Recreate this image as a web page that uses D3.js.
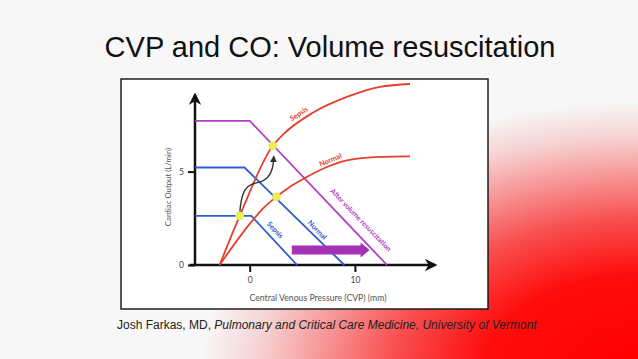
<!DOCTYPE html>
<html>
<head>
<meta charset="utf-8">
<script src="https://cdn.jsdelivr.net/npm/d3@7"></script>
<style>
  html, body { margin: 0; padding: 0; background: #f7f7f7; }
  svg { display: block; }
</style>
</head>
<body>
<div id="slide"></div>
<script>
// data (CVP in mmHg, CO in L/min)
var vrSepsis = [[-5.2, 2.63], [0.15, 2.63], [4.5, 0]];
var vrNormal = [[-5.2, 5.22], [-0.5, 5.22], [9.0, 0]];
var vrVolume = [[-5.2, 7.72], [0, 7.72], [13.05, 0]];
var cfSepsis = [[-2.86, 0], [-0.95, 2.63], [2.19, 6.38], [3.2, 7.0], [6.0, 8.15], [9.24, 9.0], [12.38, 9.54], [15.24, 9.69]];
var cfNormal = [[-2.86, 0], [0, 2.2], [1.3, 3.05], [2.54, 3.65], [3.6, 4.1], [5.24, 4.65], [6.95, 5.15], [9.24, 5.6], [12.4, 5.79], [15.24, 5.82]];
var equilibria = [[-0.95, 2.63], [2.54, 3.65], [2.19, 6.38]];
var shiftArrow = [[-0.95, 2.68], [-0.87, 3.39], [-0.48, 4.1], [0.16, 4.35], [0.95, 4.42], [1.71, 4.61], [2.22, 5.15], [2.29, 5.8]];
var volumeArrow = [[4.0, 0.8], [11.4, 0.8]];
var xTicks = [0, 10];
var yTicks = [0, 5];
var curveLabels = ["Sepsis", "Normal", "After volume resuscitation", "Normal", "Sepsis"];
var labelAt = [[4.67, 8.1], [7.67, 5.63], [10.57, 2.41], [6.43, 1.88], [2.43, 1.88]];

var W = 638, H = 359;
var red = "#e5402e", blue = "#2f5ed0", purple = "#b23fc4";

var svg = d3.select("#slide").append("svg")
  .attr("width", W)
  .attr("height", H);

var defs = svg.append("defs");

// red wash in the lower right corner
var grad = defs.append("radialGradient")
  .attr("id", "wash")
  .attr("gradientUnits", "userSpaceOnUse")
  .attr("cx", 0).attr("cy", 0).attr("r", 1)
  .attr("gradientTransform", "translate(645,372) scale(445,270)");
grad.append("stop").attr("offset", 0).attr("stop-color", "#ff0000");
grad.append("stop").attr("offset", 0.36).attr("stop-color", "#ff0c0c");
grad.append("stop").attr("offset", 0.57).attr("stop-color", "#f85050");
grad.append("stop").attr("offset", 0.72).attr("stop-color", "#f79292");
grad.append("stop").attr("offset", 0.87).attr("stop-color", "#f6d2d2");
grad.append("stop").attr("offset", 1).attr("stop-color", "#f7f7f7");

svg.append("rect").attr("width", W).attr("height", H).attr("fill", "#f7f7f7");
svg.append("rect").attr("width", W).attr("height", H).attr("fill", "url(#wash)");

// title
svg.append("text")
  .attr("x", 330).attr("y", 57)
  .attr("text-anchor", "middle")
  .style("font-family", "'Liberation Sans', Arial, sans-serif")
  .style("font-size", "29px")
  .attr("fill", "#111")
  .text("CVP and CO: Volume resuscitation");

// picture frame
svg.append("rect")
  .attr("x", 121).attr("y", 79)
  .attr("width", 367).attr("height", 230)
  .attr("fill", "#fff")
  .attr("stroke", "#111")
  .attr("stroke-width", 1.4);

// markers
defs.append("marker")
  .attr("id", "axhead")
  .attr("viewBox", "0 -5 10 10")
  .attr("refX", 8).attr("refY", 0)
  .attr("markerWidth", 5).attr("markerHeight", 5)
  .attr("orient", "auto")
  .append("path")
  .attr("d", "M0,-5L10,0L0,5L3,0Z")
  .attr("fill", "#111");

defs.append("marker")
  .attr("id", "smallhead")
  .attr("viewBox", "0 -5 10 10")
  .attr("refX", 8).attr("refY", 0)
  .attr("markerWidth", 5).attr("markerHeight", 5)
  .attr("orient", "auto")
  .append("path")
  .attr("d", "M0,-5L10,0L0,5Z")
  .attr("fill", "#333");

var x = d3.scaleLinear().domain([-5.2, 17.9]).range([195, 438]);
var y = d3.scaleLinear().domain([0, 9.1]).range([265, 95]);

var g = svg.append("g");
var chartFont = "Lato, 'Open Sans', sans-serif";

// axes lines with arrow heads
g.append("line")
  .attr("x1", x(-5.7)).attr("y1", y(0))
  .attr("x2", x(17.6)).attr("y2", y(0))
  .attr("stroke", "#111").attr("stroke-width", 2.5)
  .attr("marker-end", "url(#axhead)");
g.append("line")
  .attr("x1", x(-5.2)).attr("y1", y(0))
  .attr("x2", x(-5.2)).attr("y2", y(9.1))
  .attr("stroke", "#111").attr("stroke-width", 2.5)
  .attr("marker-end", "url(#axhead)");

var xAxis = g.append("g")
  .attr("transform", "translate(0," + y(0) + ")")
  .call(d3.axisBottom(x).tickValues(xTicks).tickSize(7).tickPadding(5));
var yAxis = g.append("g")
  .attr("transform", "translate(" + x(-5.2) + ",0)")
  .call(d3.axisLeft(y).tickValues(yTicks).tickSize(7).tickPadding(4));
[xAxis, yAxis].forEach(function(a) {
  a.select(".domain").remove();
  a.selectAll("line").attr("stroke", "#111").attr("stroke-width", 2);
  a.selectAll("text")
    .style("font-family", chartFont)
    .style("font-size", "8.5px")
    .attr("fill", "#444");
});

g.append("text")
  .attr("x", 318).attr("y", 301)
  .attr("text-anchor", "middle")
  .style("font-family", chartFont)
  .style("font-size", "8.7px")
  .attr("fill", "#555")
  .text("Central Venous Pressure (CVP) (mm)");

g.append("text")
  .attr("transform", "translate(171,187) rotate(-90)")
  .attr("text-anchor", "middle")
  .style("font-family", chartFont)
  .style("font-size", "7.8px")
  .attr("fill", "#555")
  .text("Cardiac Output (L/min)");

// curves
var straight = d3.line()
  .x(function(d) { return x(d[0]); })
  .y(function(d) { return y(d[1]); });
var smooth = d3.line()
  .x(function(d) { return x(d[0]); })
  .y(function(d) { return y(d[1]); })
  .curve(d3.curveMonotoneX);

var curves = [
  {pts: vrVolume, color: purple, gen: straight},
  {pts: vrNormal, color: blue, gen: straight},
  {pts: vrSepsis, color: blue, gen: straight},
  {pts: cfNormal, color: red, gen: smooth},
  {pts: cfSepsis, color: red, gen: smooth}
];
g.selectAll("path.curve")
  .data(curves)
  .enter()
  .append("path")
    .attr("class", "curve")
    .attr("d", function(d) { return d.gen(d.pts); })
    .attr("fill", "none")
    .attr("stroke", function(d) { return d.color; })
    .attr("stroke-width", 1.8);

// black shift arrow
g.append("path")
  .attr("d", d3.line()
    .x(function(d) { return x(d[0]); })
    .y(function(d) { return y(d[1]); })
    .curve(d3.curveBasis)(shiftArrow))
  .attr("fill", "none")
  .attr("stroke", "#333")
  .attr("stroke-width", 1.4)
  .attr("marker-end", "url(#smallhead)");

// equilibrium points
g.selectAll("circle.eq")
  .data(equilibria)
  .enter()
  .append("circle")
    .attr("class", "eq")
    .attr("cx", function(d) { return x(d[0]); })
    .attr("cy", function(d) { return y(d[1]); })
    .attr("r", 4)
    .attr("fill", "#eef04c")
    .attr("stroke", "#e6e070")
    .attr("stroke-width", 0.8);

// big purple arrow (volume shifts the curve right)
var ax0 = x(volumeArrow[0][0]), ax1 = x(volumeArrow[1][0]), ay = y(volumeArrow[0][1]);
g.append("path")
  .attr("d", "M" + ax0 + "," + (ay - 4.5) +
             "L" + (ax1 - 9) + "," + (ay - 4.5) +
             "L" + (ax1 - 9) + "," + (ay - 7.5) +
             "L" + ax1 + "," + ay +
             "L" + (ax1 - 9) + "," + (ay + 7.5) +
             "L" + (ax1 - 9) + "," + (ay + 4.5) +
             "L" + ax0 + "," + (ay + 4.5) + "Z")
  .attr("fill", "#a531b6");

// curve labels
var labelColors = [red, red, purple, blue, blue];
var labelAngles = [-34, -23, 46, 46, 47];
g.selectAll("text.lbl")
  .data(curveLabels)
  .enter()
  .append("text")
    .attr("class", "lbl")
    .attr("transform", function(d, i) {
      return "translate(" + x(labelAt[i][0]) + "," + y(labelAt[i][1]) + ") rotate(" + labelAngles[i] + ")";
    })
    .attr("text-anchor", "middle")
    .attr("dy", "0.35em")
    .style("font-family", chartFont)
    .style("font-size", "7.2px")
    .style("font-weight", "bold")
    .attr("fill", function(d, i) { return labelColors[i]; })
    .text(function(d) { return d; });

// credit line
var credit = svg.append("text")
  .attr("x", 117).attr("y", 329)
  .style("font-family", "'Liberation Sans', Arial, sans-serif")
  .style("font-size", "12px")
  .attr("fill", "#222");
credit.append("tspan").text("Josh Farkas, MD, ");
credit.append("tspan").style("font-style", "italic")
  .text("Pulmonary and Critical Care Medicine, University of Vermont");
</script>
</body>
</html>
